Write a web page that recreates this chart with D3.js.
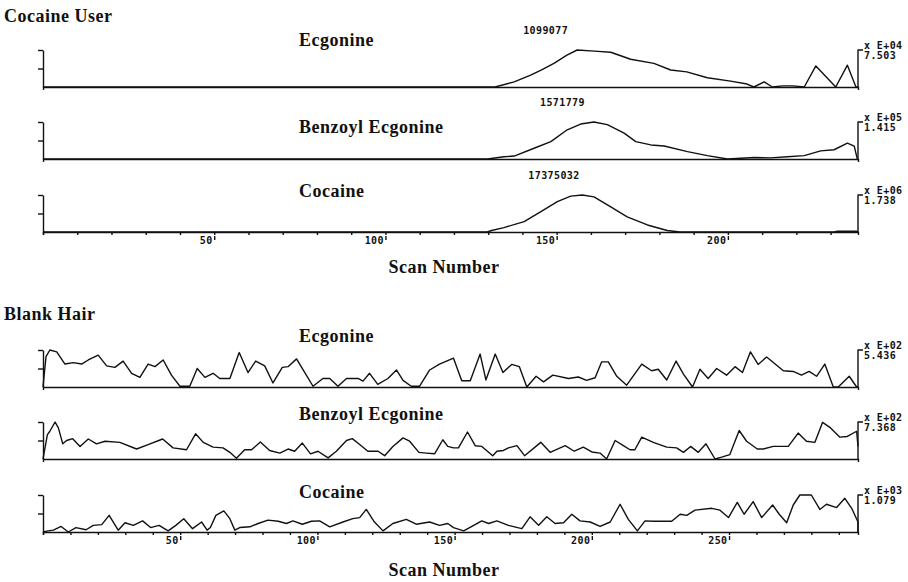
<!DOCTYPE html>
<html>
<head>
<meta charset="utf-8">
<script src="https://cdn.jsdelivr.net/npm/d3@7"></script>
<style>
  body { margin: 0; background: #fff; }
  svg { display: block; }
  .title { font-family: "Liberation Serif", "Times New Roman", serif; font-weight: bold; font-size: 18px; letter-spacing: 0.5px; fill: #111; }
  .mono { font-family: "DejaVu Sans Mono", monospace; font-weight: bold; font-size: 10px; letter-spacing: 0.4px; fill: #111; }
  .trace { fill: none; stroke: #111; stroke-width: 1.4; stroke-linejoin: round; }
  .axis path, .axis line { stroke: #111; stroke-width: 1.4; }
</style>
</head>
<body>
<script>
// chromatogram data: [scan number, relative intensity % of panel full scale]
const compounds = ["Ecgonine", "Benzoyl Ecgonine", "Cocaine"];

const userEcgonine = [[0,0],[132,0],[137.6,14],[142.4,32],[145.6,46],[149.2,64],[153,86],[156,100],[161,97],[165.8,94],
  [171.6,75],[178.4,64],[183.3,46],[188,41],[194,25],[200.8,16],[205.6,8],[207.6,0],[210.6,14],[213,0],[216,3],[219,3],
  [222.3,0],[225.7,57],[231.5,0],[234.9,59],[237.4,0],[238,0]];
const userBenzoyl = [[0,0],[129.8,0],[134.6,6],[137.6,8],[143.4,29],[148.3,47],[153.1,79],[157,94.5],[160.9,100],[164.8,93],
  [169.7,70],[173.1,47],[177.5,38],[181.4,35],[188.2,20],[194,9],[199.9,0],[203.8,2],[207.7,4],[212.5,3],[217.4,6],
  [222.3,9],[227.1,22],[231,25],[234.9,43],[236.9,35],[237.8,0],[238,0]];
const userCocaine = [[0,0],[129.7,0],[131,4],[134.6,12],[140.5,28],[145.4,55],[150.2,82],[154.1,97],[157.5,100],[160.9,95],
  [165.8,68],[170.6,41],[176.5,19],[182.3,4],[186,0],[231,0],[232,2],[237.5,2],[238,0]];

const blankEcgonine = [[0,0],[1.1,82],[2.5,100],[5,95],[8,62],[11,66],[14.1,62],[16.5,73],[20.1,86],[23.2,57],[26.2,53],
  [29.2,70],[32.3,37],[35.3,26],[38.3,62],[40.8,55],[43.8,73],[46.8,32],[49.9,2],[53.5,2],[56.2,50],[59,26],[62,37],
  [64.4,23],[68.1,23],[71.5,93],[74.7,39],[77.5,70],[80.8,57],[83.8,11],[87.2,53],[89.3,55],[92.4,76],[94.8,46],[98.4,2],
  [102,23],[104.5,23],[107.5,2],[110.6,23],[114.8,23],[116.6,16],[119,37],[122,7],[125.7,23],[128.8,46],[131.2,18],
  [134.2,2],[137.2,2],[140.9,46],[144.5,62],[149.6,78],[152.6,17],[155.7,17],[159.3,89],[161.4,19],[164.8,89],[167.6,39],
  [170.8,61],[173.6,55],[176.3,0],[179.7,29],[182.4,14],[185.8,32],[191.5,23],[195.1,27],[198.1,18],[201.2,25],[203.6,68],
  [206,68],[209.1,29],[212.7,5],[218.2,62],[221.8,44],[224.2,48],[227.3,19],[230.7,70],[233.4,35],[236.7,0],[239.4,48],
  [242.4,23],[245.5,50],[249.1,32],[252.2,55],[254.9,39],[257.8,95],[260.6,61],[263.7,81],[269.8,44],[273.4,42],
  [276.4,32],[279.2,42],[281.9,29],[284.9,62],[288,0],[289.8,0],[293.8,29],[296.5,0],[297,0]];
const blankBenzoyl = [[0,0],[1.6,66],[2.5,75],[4.4,100],[5.6,84],[7.2,41],[8.6,50],[10.8,55],[13.5,34],[16.5,54],[19.5,41],
  [22.6,48],[28,45],[34.1,27],[38.3,39],[43.6,54],[47.4,30],[52.3,25],[55.6,68],[58.4,45],[62,32],[65.6,30],[68.1,18],
  [70.5,2],[73.5,25],[76,25],[79.2,46],[82.6,23],[86.3,16],[89.3,27],[91.7,21],[94.5,43],[97.5,14],[100.2,21],[103.9,3],
  [106.9,21],[110.6,50],[112.7,55],[115.4,39],[118.4,21],[122.1,21],[124.5,9],[127.5,34],[131.2,57],[133.6,48],[137,18],
  [139.7,16],[142.7,14],[145.7,52],[147.5,34],[149.6,30],[151.4,30],[154.7,73],[157.5,36],[159.9,34],[163.9,9],[165.4,21],
  [167.8,23],[169.6,30],[172.7,36],[175.5,9],[181.4,45],[184.8,18],[190.3,36],[193.6,21],[196.9,32],[200,19],[203,16],
  [205.4,0],[208.5,50],[211.5,36],[213.9,25],[215.7,25],[218.2,59],[222.4,45],[227.3,32],[230.9,30],[233.4,18],[236,34],
  [238.8,18],[241.6,41],[244.9,0],[247.3,5],[250.3,12],[253.7,77],[256.4,48],[260.3,27],[262.5,27],[266.1,34],[271.6,34],
  [275.2,70],[278.2,48],[281.3,45],[284.1,99],[287,84],[290.4,59],[293.1,61],[296.5,75],[297,34]];
const blankCocaine = [[0,0],[1.9,3],[3.8,5],[6.6,15],[9.2,0],[12,12],[15.7,6],[18.3,18],[21.4,20],[24.1,45],[27.4,5],
  [29.9,25],[32.9,18],[36.3,30],[39.2,12],[42.3,18],[45.6,3],[48.4,18],[51.3,36],[54.5,9],[57.8,27],[59.8,5],[61,12],
  [63,45],[65.9,57],[68.1,36],[69.9,5],[71.7,12],[75.4,14],[78.4,23],[82,32],[85.7,29],[88.7,23],[91.1,30],[94.5,21],
  [97.8,29],[100.8,30],[104.5,14],[109.3,27],[112.9,36],[115.4,39],[117.8,61],[120.8,27],[123.9,3],[127.5,23],[132.4,34],
  [136,21],[140.9,27],[144.5,18],[147.5,23],[149.6,12],[153.3,3],[156.3,15],[159.9,30],[162.4,23],[165.4,30],[169.6,18],
  [174.5,9],[177.5,41],[180.6,18],[183.6,41],[186.6,23],[189.7,25],[192.7,48],[195.7,30],[199.4,27],[203,15],[206.7,27],
  [210.3,75],[213.3,34],[216.6,3],[219.4,30],[222.4,29],[229.1,29],[232.2,48],[234.6,45],[237.6,59],[243.7,64],[246.7,59],
  [249.8,39],[253,80],[255.5,48],[258.8,82],[261.9,39],[265.9,73],[268.3,48],[271,25],[273.4,73],[275.8,100],[280,100],
  [283.1,61],[285.5,75],[289.2,66],[292.2,91],[294.7,64],[297,27],[297,0]];

// full scale labels and integrated peak areas
const userFullScale = ["7.503", "1.415", "1.738"];
const userExponent = ["E+04", "E+05", "E+06"];
const userPeakArea = ["1099077", "1571779", "17375032"];
const blankFullScale = ["5.436", "7.368", "1.079"];
const blankExponent = ["E+02", "E+02", "E+03"];
const userScanTicks = [50, 100, 150, 200];
const blankScanTicks = [50, 100, 150, 200, 250];

const width = 908, height = 582;
const plotLeft = 43, plotRight = 858, panelH = 37;

const svg = d3.select("body").append("svg")
  .attr("width", width)
  .attr("height", height);

const groups = [
  {title: "Cocaine User", titleY: 22, baselines: [87, 159, 232], labelDy: [41, 26, 35], scanMax: 238,
   traces: [userEcgonine, userBenzoyl, userCocaine], fullScale: userFullScale, exponent: userExponent,
   areas: userPeakArea, scanTicks: userScanTicks, xTitleY: 273},
  {title: "Blank Hair", titleY: 320, baselines: [387, 459, 532], labelDy: [45, 39, 34], scanMax: 297,
   traces: [blankEcgonine, blankBenzoyl, blankCocaine], fullScale: blankFullScale, exponent: blankExponent,
   areas: null, scanTicks: blankScanTicks, xTitleY: 576}
];

groups.forEach(grp => {
  const x = d3.scaleLinear().domain([0, grp.scanMax]).range([plotLeft, plotRight]);

  svg.append("text").attr("class", "title")
    .attr("x", 4).attr("y", grp.titleY)
    .text(grp.title);

  grp.traces.forEach((trace, i) => {
    const base = grp.baselines[i];
    const y = d3.scaleLinear().domain([0, 100]).range([base, base - panelH]);
    const g = svg.append("g");

    // compound name
    g.append("text").attr("class", "title")
      .attr("x", 299).attr("y", base - grp.labelDy[i])
      .text(compounds[i]);

    // left intensity axis
    g.append("g").attr("class", "axis")
      .attr("transform", `translate(${plotLeft},0)`)
      .call(d3.axisLeft(y).tickValues([50, 100]).tickSize(5).tickSizeOuter(0).tickFormat(""));

    // baseline / scan axis
    const isLast = i === grp.traces.length - 1;
    const minor = d3.axisBottom(x).tickSizeOuter(0).tickFormat("")
      .tickValues(isLast ? d3.range(0, grp.scanMax, 10) : []).tickSize(3);
    g.append("g").attr("class", "axis")
      .attr("transform", `translate(0,${base})`)
      .call(minor);

    if (isLast) {
      const major = g.append("g").attr("class", "axis")
        .attr("transform", `translate(0,${base})`)
        .call(d3.axisBottom(x).tickValues(grp.scanTicks).tickSize(8).tickSizeOuter(0));
      major.select(".domain").remove();
      major.selectAll("line").attr("y1", 4);
      major.selectAll("text")
        .attr("class", "mono")
        .attr("text-anchor", "end")
        .attr("x", -2).attr("y", 5).attr("dy", "0.71em");

      svg.append("text").attr("class", "title")
        .attr("x", 444).attr("y", grp.xTitleY)
        .attr("text-anchor", "middle")
        .text("Scan Number");
    }

    // trace
    g.append("path").attr("class", "trace")
      .datum(trace)
      .attr("d", d3.line().x(d => x(d[0])).y(d => y(d[1])));

    // full-scale bracket
    g.append("path").attr("class", "trace")
      .attr("d", `M${x(grp.scanMax)},${y(0)}V${y(100)}h5`);
    g.append("text").attr("class", "mono")
      .attr("x", x(grp.scanMax) + 6).attr("y", y(100) - 1.5)
      .text("x " + grp.exponent[i]);
    g.append("text").attr("class", "mono")
      .attr("x", x(grp.scanMax) + 6).attr("y", y(100) + 8.5)
      .text(grp.fullScale[i]);

    // peak area above apex
    if (grp.areas) {
      const apex = trace.reduce((a, b) => (b[1] > a[1] ? b : a));
      g.append("text").attr("class", "mono")
        .attr("x", x(apex[0]) - 54).attr("y", y(apex[1]) - 16)
        .text(grp.areas[i]);
    }
  });
});
</script>
</body>
</html>
